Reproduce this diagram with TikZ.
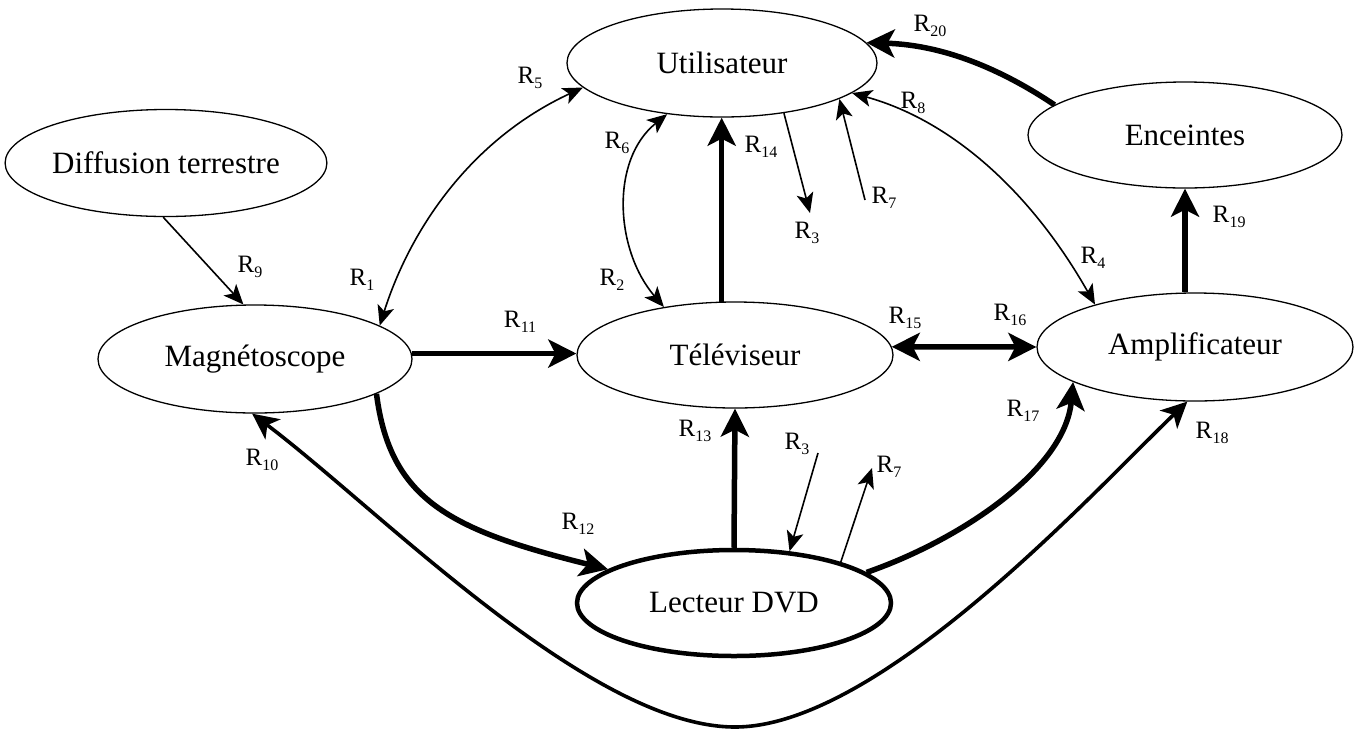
\documentclass[tikz,border=0pt]{standalone}
\usepackage{fontspec}
\setmainfont{Liberation Serif}
\usetikzlibrary{shapes.geometric,arrows.meta}
\newcommand{\Rs}[1]{R\kern0.3pt\raisebox{-5pt}{\fontsize{16}{16}\selectfont #1}}
\tikzset{
  ell/.style={ellipse, draw, line width=1.3pt, minimum width=314pt, minimum height=107pt, inner sep=0pt, font=\fontsize{31}{31}\selectfont},
  lnk/.style={line width=1.6pt, -{Stealth[length=20pt,width=17pt,inset=5pt]}},
  lnkbi/.style={line width=1.6pt, {Stealth[length=20pt,width=17pt,inset=5pt]}-{Stealth[length=20pt,width=17pt,inset=5pt]}},
  mlnkbi/.style={line width=3.6pt, {Stealth[length=26pt,width=25pt,inset=7pt]}-{Stealth[length=26pt,width=25pt,inset=7pt]}},
  blnk/.style={line width=5.5pt, -{Stealth[length=28pt,width=28pt,inset=7pt]}},
  blnkbi/.style={line width=5.5pt, {Stealth[length=28pt,width=28pt,inset=7pt]}-{Stealth[length=28pt,width=28pt,inset=7pt]}},
  lab/.style={inner sep=0pt, font=\fontsize{25}{25}\selectfont}
}
\begin{document}
\begin{tikzpicture}[x=1pt,y=-1pt]
\useasboundingbox (0,0) rectangle (1355,732);
% nodes
\node[ell, minimum width=310pt, minimum height=108pt] (user) at (722,63) {Utilisateur};
\node[ell] (diff) at (166,163) {Diffusion terrestre};
\node[ell, minimum height=108pt] (mag) at (255,359) {Magnétoscope};
\node[ell, minimum width=316pt, minimum height=106pt] (tv) at (735,355) {Téléviseur};
\node[ell, minimum width=316pt, minimum height=108pt] (amp) at (1195,347) {Amplificateur};
\node[ell, minimum height=106pt] (enc) at (1185,135) {Enceintes};
\node[ell, line width=4.5pt, minimum width=314pt, minimum height=106pt] (dvd) at (734,603) {Lecteur DVD};
% free ends
\coordinate (r3a) at (810,213);
\coordinate (r7a) at (865,200);
\coordinate (r3b) at (818,453);
\coordinate (r7b) at (872,468);
\coordinate (bot) at (735,727);
% connectors
\draw[lnk] (diff.-93) -- (mag.102);
\draw[lnkbi] (mag.15) .. controls (410,230) and (470,140) .. (user.190);
\draw[blnk] (mag.2) -- (tv.west |- mag.2);
\draw[blnk] (mag.-16) .. controls (390,500) and (450,530) .. (dvd.165);
\draw[mlnkbi] (mag.-93) .. controls (380,510) and (590,727) .. (bot) .. controls (880,727) and (1095,490) .. (amp.262);
\draw[lnkbi] (user.223) .. controls (610,160) and (615,250) .. (tv.146);
\draw[blnk] (tv.104) -- (tv.104 |- user.south);
\draw[lnk] (user.-39) -- (r3a);
\draw[lnk] (r7a) -- (user.-17);
\draw[lnkbi] (user.-13) .. controls (950,120) and (1030,190) .. (amp.157);
\draw[blnk] (enc.167) .. controls (1010,75) and (950,45) .. (user.8);
\draw[blnk] (amp.north -| enc.south) -- (enc.south);
\draw[blnkbi] (tv.3) -- (amp.west);
\draw[blnk] (dvd.north) -- (tv.south);
\draw[lnk] (r3b) -- (dvd.43);
\draw[lnk] (dvd.21) -- (r7b);
\draw[blnk] (dvd.13) .. controls (960,540) and (1065,470) .. (amp.196);
% labels
\node[lab] (l1) at (362,280) {\Rs{1}};
\node[lab] (l2) at (612,280) {\Rs{2}};
\node[lab] (l3a) at (807,233) {\Rs{3}};
\node[lab] (l3b) at (797,444) {\Rs{3}};
\node[lab] (l4) at (1093,258) {\Rs{4}};
\node[lab] (l5) at (530,78) {\Rs{5}};
\node[lab] (l6) at (617,143) {\Rs{6}};
\node[lab] (l7a) at (884,198) {\Rs{7}};
\node[lab] (l7b) at (889,467) {\Rs{7}};
\node[lab] (l8) at (913,103) {\Rs{8}};
\node[lab] (l9) at (250,267) {\Rs{9}};
\node[lab] (l10) at (262,460) {\Rs{10}};
\node[lab] (l11) at (520,322) {\Rs{11}};
\node[lab] (l12) at (578,524) {\Rs{12}};
\node[lab] (l13) at (695,431) {\Rs{13}};
\node[lab] (l14) at (761,147) {\Rs{14}};
\node[lab] (l15) at (905,318) {\Rs{15}};
\node[lab] (l16) at (1010,315) {\Rs{16}};
\node[lab] (l17) at (1023,411) {\Rs{17}};
\node[lab] (l18) at (1212,433) {\Rs{18}};
\node[lab] (l19) at (1229,217) {\Rs{19}};
\node[lab] (l20) at (930,26) {\Rs{20}};
\end{tikzpicture}
\end{document}
